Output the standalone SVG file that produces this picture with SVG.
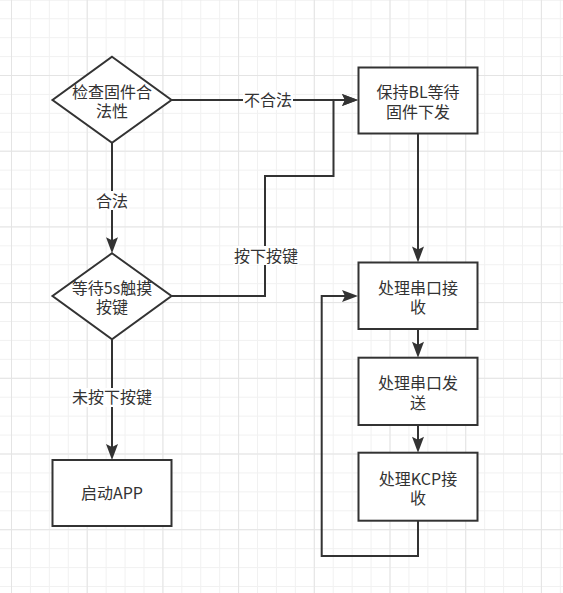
<svg xmlns="http://www.w3.org/2000/svg" width="563" height="593" viewBox="0 0 563 593">
<defs>
<pattern id="minor" patternUnits="userSpaceOnUse" x="11" y="-0.7" width="18.925" height="18.925">
<rect x="0" y="0" width="1" height="18.925" fill="#f1f1f1"/>
<rect x="0" y="0" width="18.925" height="1" fill="#f1f1f1"/>
</pattern>
<pattern id="major" patternUnits="userSpaceOnUse" x="11" y="-0.7" width="75.7" height="75.7">
<rect x="0" y="0" width="1" height="75.7" fill="#e4e4e4"/>
<rect x="0" y="0" width="75.7" height="1" fill="#e4e4e4"/>
</pattern>
<marker id="arr" markerUnits="userSpaceOnUse" markerWidth="16" markerHeight="12" refX="12" refY="6" orient="auto" overflow="visible">
<path d="M0,0 L16,6 L0,12 L3,6 Z" fill="#333333"/>
</marker>
<style>
.shape{fill:#ffffff;stroke:#333333;stroke-width:2}
.edge{fill:none;stroke:#333333;stroke-width:2}
.t{font-family:"Noto Sans CJK SC","Noto Sans",sans-serif;font-size:16px;fill:#333333;text-anchor:middle}
.lbg{fill:#ffffff}
</style>
</defs>
<rect width="563" height="593" fill="#ffffff"/>
<rect width="563" height="593" fill="url(#minor)"/>
<rect width="563" height="593" fill="url(#major)"/>

<g id="connectors">
<path class="edge" d="M171.5,100 H354" marker-end="url(#arr)"/>
<path class="edge" d="M171.5,296 H265 V176 H333.5 V100 H354" marker-end="url(#arr)"/>
<path class="edge" d="M112,142.7 V249.3" marker-end="url(#arr)"/>
<path class="edge" d="M112,339.3 V456" marker-end="url(#arr)"/>
<path class="edge" d="M418,133.7 V258.5" marker-end="url(#arr)"/>
<path class="edge" d="M418,329 V353.7" marker-end="url(#arr)"/>
<path class="edge" d="M418,425 V448.7" marker-end="url(#arr)"/>
<path class="edge" d="M418,520.7 V556 H321.7 V296 H354" marker-end="url(#arr)"/>
<g id="label-buhefa"><rect class="lbg" x="243" y="91" width="50" height="19"/><text class="t" x="268" y="106">不合法</text></g>
<g id="label-hefa"><rect class="lbg" x="95" y="191" width="34" height="19"/><text class="t" x="112" y="206.5">合法</text></g>
<g id="label-anxia"><rect class="lbg" x="233" y="246" width="66" height="19"/><text class="t" x="266" y="261.5">按下按键</text></g>
<g id="label-weianxia"><rect class="lbg" x="71" y="388" width="82" height="19"/><text class="t" x="112" y="403">未按下按键</text></g>
</g>

<g id="check">
<path class="shape" d="M112,56.7 L171.5,100 L112,142.7 L52.5,100 Z"/>
<text class="t" x="112" y="97.5">检查固件合<tspan x="112" dy="19.5">法性</tspan></text>
</g>
<g id="wait">
<path class="shape" d="M112,253.3 L171.5,296 L112,339.3 L52.5,296 Z"/>
<text class="t" x="112" y="293.5">等待5s触摸<tspan x="112" dy="19.5">按键</tspan></text>
</g>
<g id="start">
<rect class="shape" x="52.5" y="460" width="119" height="66"/>
<text class="t" x="112" y="498.5">启动APP</text>
</g>
<g id="keep">
<rect class="shape" x="358.5" y="67.5" width="119" height="66"/>
<text class="t" x="418" y="98.3">保持BL等待<tspan x="418" dy="19.2">固件下发</tspan></text>
</g>
<g id="uartrx">
<rect class="shape" x="358.5" y="262.5" width="119" height="66.5"/>
<text class="t" x="418" y="293.5">处理串口接<tspan x="418" dy="19.5">收</tspan></text>
</g>
<g id="uarttx">
<rect class="shape" x="358.5" y="357.7" width="119" height="67.3"/>
<text class="t" x="418" y="389">处理串口发<tspan x="418" dy="19.5">送</tspan></text>
</g>
<g id="kcprx">
<rect class="shape" x="358.5" y="452.7" width="119" height="68"/>
<text class="t" x="418" y="484.5">处理KCP接<tspan x="418" dy="19.5">收</tspan></text>
</g>
</svg>
